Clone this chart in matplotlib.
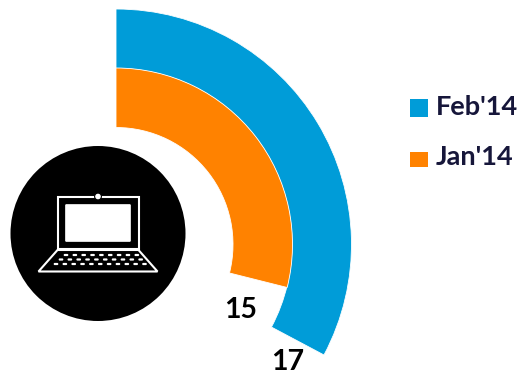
import numpy as np
import matplotlib
matplotlib.use("Agg")
import matplotlib.pyplot as plt
from matplotlib.patches import Circle, Polygon, Rectangle, FancyBboxPatch

W, H = 518, 376

months = ["Feb'14", "Jan'14"]
values = [17, 15]
colors = ["#009CD8", "#FF8200"]
value_labels = ["17", "15"]
degrees_per_unit = 6.94
ring_inner = [176, 117]
ring_width = 59.5

CENTER = (116.0, 244.5)
RMAX = 236

fig = plt.figure(figsize=(W / 100, H / 100), dpi=100, facecolor="white")

# Radial bars on a polar axes, growing clockwise from twelve o'clock
polar = fig.add_axes(
    [(CENTER[0] - RMAX) / W, 1 - (CENTER[1] + RMAX) / H, 2 * RMAX / W, 2 * RMAX / H],
    projection="polar",
)
polar.set_theta_zero_location("N")
polar.set_theta_direction(-1)
polar.set_ylim(0, RMAX)
polar.axis("off")
for val, col, inner in zip(values, colors, ring_inner):
    sweep = np.deg2rad(val * degrees_per_unit)
    polar.bar(sweep / 2, ring_width, width=sweep, bottom=inner, color=col,
              edgecolor="white", linewidth=0.6)

# Pixel-space overlay for the icon, legend and value labels
ax = fig.add_axes([0, 0, 1, 1], facecolor="none")
ax.set_xlim(0, W)
ax.set_ylim(H, 0)
ax.axis("off")

# Laptop badge
ax.add_patch(Circle((98, 233.5), 87.5, color="black", lw=0))
ax.add_patch(Rectangle((57.5, 197), 81, 52, fc="none", ec="white", lw=1.5))
ax.add_patch(FancyBboxPatch((65.5, 204.5), 65, 37, boxstyle="round,pad=0,rounding_size=1",
                            fc="white", ec="white", lw=0.5))
ax.add_patch(Circle((98, 196.5), 3.4, fc="white", ec="black", lw=0.8))
ax.add_patch(Polygon([(57.5, 250), (138.5, 250), (157.5, 271.5), (38.5, 271.5)],
                     closed=True, fc="none", ec="white", lw=1.5))

key_rows = [(255, 66, 9), (259.5, 61, 10), (264, 56, 11)]
for y, x0, n in key_rows:
    for i in range(n):
        ax.add_patch(FancyBboxPatch((x0 + i * 8.85 - 2.3, y - 1.1), 4.6, 2.2,
                                    boxstyle="round,pad=0,rounding_size=1", fc="white", ec="none"))

# Value labels at the ends of the bars, placed by baseline
label_xy = [(288, 369.5), (241, 318)]
for txt, (x, y) in zip(value_labels, label_xy):
    ax.text(x, y, txt, ha="center", va="baseline", fontsize=20.5, fontweight="bold",
            family="Lato", color="black")

# Legend
legend_y = [108, 159.5]
swatch_h = [18, 15]
text_y = [107, 157]
for name, col, y, h, ty in zip(months, colors, legend_y, swatch_h, text_y):
    ax.add_patch(Rectangle((410, y - h / 2), 18, h, fc=col, ec="none"))
    ax.text(435.5, ty, name, ha="left", va="center", fontsize=19.5, fontweight="bold",
            family="Lato", color="#16163a")

fig.savefig("out.png", dpi=100)
